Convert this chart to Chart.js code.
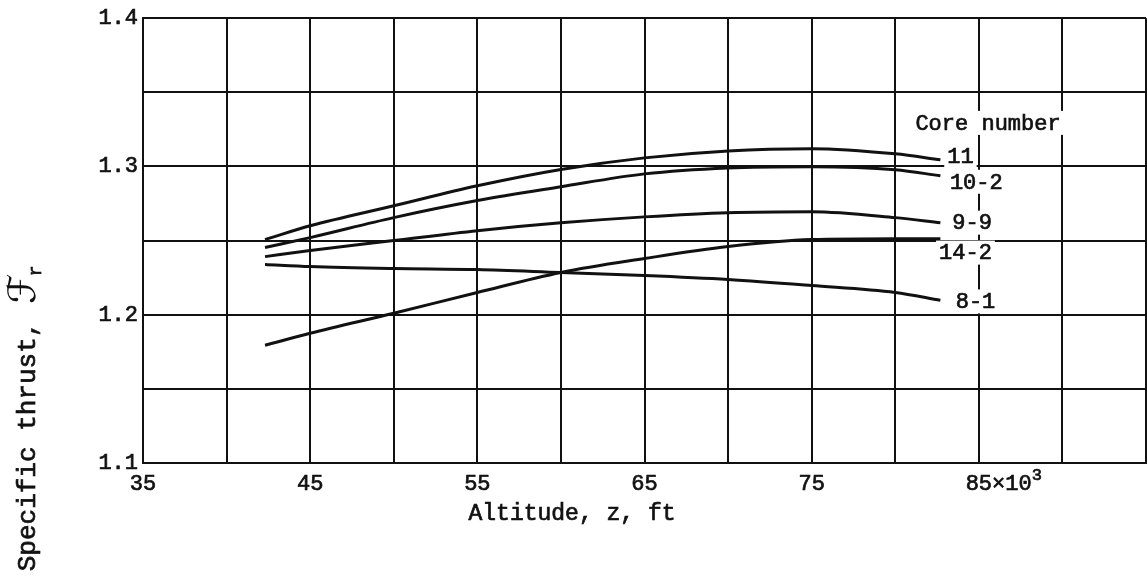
<!DOCTYPE html>
<html>
<head>
<meta charset="utf-8">
<script src="https://cdn.jsdelivr.net/npm/chart.js@4"></script>
<style>
  html, body { margin: 0; padding: 0; background: #fff; }
</style>
</head>
<body>
<canvas id="thrustChart" width="1147" height="586"></canvas>
<script>
// Specific thrust vs altitude, one curve per core
const altitude = [42.3, 45, 50, 55, 60, 65, 70, 75, 80, 82.7];
const core11 = [1.2507, 1.2600, 1.2735, 1.2870, 1.2980, 1.3058, 1.3105, 1.3120, 1.3085, 1.3045];
const core10_2 = [1.2453, 1.2520, 1.2655, 1.2770, 1.2863, 1.2950, 1.2990, 1.2998, 1.2978, 1.2937];
const core9_9 = [1.2392, 1.2433, 1.2500, 1.2567, 1.2620, 1.2660, 1.2688, 1.2695, 1.2655, 1.2620];
const core14_2 = [1.1794, 1.1875, 1.2010, 1.2150, 1.2285, 1.2379, 1.2460, 1.2507, 1.2513, 1.2513];
const core8_1 = [1.2339, 1.2325, 1.2312, 1.2305, 1.2285, 1.2265, 1.2238, 1.2197, 1.2150, 1.2097];
const coreNames = ['11', '10-2', '9-9', '14-2', '8-1'];
const xTickLabels = [35, 45, 55, 65, 75, 85];
const yTickLabels = [1.1, 1.2, 1.3, 1.4];

const ink = '#111';
const mono = '"Liberation Mono", "DejaVu Sans Mono", monospace';

function series(values) {
  return altitude.map((x, i) => ({ x: x, y: values[i] }));
}

const allSeries = [core11, core10_2, core9_9, core14_2, core8_1];

// curve labels, placed in data units next to the line ends
const curveLabels = [
  { text: 'Core number', x: 85.55, y: 1.3294 },
  { text: coreNames[0], x: 83.9, y: 1.3072 },
  { text: coreNames[1], x: 84.85, y: 1.2897 },
  { text: coreNames[2], x: 84.6, y: 1.2621 },
  { text: coreNames[3], x: 84.2, y: 1.2419 },
  { text: coreNames[4], x: 84.8, y: 1.2090 }
];

// typewriter look: fill plus a thin stroke
function inkText(ctx, s, x, y) {
  ctx.fillText(s, x, y);
  ctx.strokeText(s, x, y);
}

const annotations = {
  id: 'annotations',
  afterDraw(chart) {
    const ctx = chart.ctx;
    const xs = chart.scales.x;
    const ys = chart.scales.y;
    ctx.save();
    ctx.strokeStyle = ink;
    ctx.lineWidth = 0.7;

    // labels with white boxes that break the grid
    ctx.font = '22px ' + mono;
    ctx.textBaseline = 'middle';
    ctx.textAlign = 'center';
    curveLabels.forEach(l => {
      const px = xs.getPixelForValue(l.x);
      const py = ys.getPixelForValue(l.y);
      const w = ctx.measureText(l.text).width;
      ctx.fillStyle = '#fff';
      ctx.fillRect(px - w / 2 - 3, py - 12, w + 6, 24);
      ctx.fillStyle = ink;
      inkText(ctx, l.text, px, py + 1);
    });

    // x10^3 after the 85 tick
    const p85 = xs.getPixelForValue(85);
    const w85 = ctx.measureText('85').width;
    const ty = chart.chartArea.bottom + 21;
    ctx.textAlign = 'left';
    inkText(ctx, '\u00d710', p85 + w85 / 2, ty);
    const w10 = ctx.measureText('\u00d710').width;
    ctx.font = '17px ' + mono;
    inkText(ctx, '3', p85 + w85 / 2 + w10, ty - 9);

    // x axis title
    ctx.font = '23px ' + mono;
    ctx.textAlign = 'center';
    ctx.textBaseline = 'alphabetic';
    inkText(ctx, 'Altitude, z, ft', 572, 520);

    // y axis title, rotated, script F with subscript r
    ctx.translate(35, 306);
    ctx.rotate(-Math.PI / 2);
    ctx.font = '26px ' + mono;
    ctx.textAlign = 'right';
    inkText(ctx, 'Specific thrust, ', 0, 0);
    ctx.textAlign = 'left';
    ctx.font = 'italic 38px "DejaVu Serif", "DejaVu Sans", serif';
    ctx.fillText('\u2131', 2, 0);
    const wf = ctx.measureText('\u2131').width;
    ctx.font = '18px ' + mono;
    inkText(ctx, 'r', wf + 0, 6);
    ctx.restore();
  }
};

const tickFont = { family: mono, size: 22 };

new Chart(document.getElementById('thrustChart').getContext('2d'), {
  type: 'line',
  data: {
    datasets: allSeries.map((vals, i) => ({
      label: coreNames[i],
      data: series(vals),
      borderColor: ink,
      borderWidth: 3,
      pointRadius: 0,
      fill: false,
      cubicInterpolationMode: 'monotone'
    }))
  },
  options: {
    responsive: false,
    animation: false,
    devicePixelRatio: 1,
    layout: { padding: { left: 0, right: 1, top: 17, bottom: 0 } },
    scales: {
      x: {
        type: 'linear',
        min: 35,
        max: 95,
        afterFit: s => { s.height = 123; s.paddingLeft = 0; s.paddingRight = 0; },
        grid: { color: ink, lineWidth: 2, drawTicks: false },
        border: { color: ink, width: 2 },
        ticks: {
          stepSize: 5,
          autoSkip: false,
          maxRotation: 0,
          padding: 8,
          color: ink,
          textStrokeColor: ink,
          textStrokeWidth: 0.7,
          font: tickFont,
          callback: v => xTickLabels.includes(v) ? String(v) : ''
        }
      },
      y: {
        min: 1.1,
        max: 1.4,
        afterFit: s => { s.width = 143; },
        grid: { color: ink, lineWidth: 2, drawTicks: false },
        border: { color: ink, width: 2 },
        ticks: {
          stepSize: 0.05,
          autoSkip: false,
          padding: 5,
          color: ink,
          textStrokeColor: ink,
          textStrokeWidth: 0.7,
          font: tickFont,
          callback: v => yTickLabels.some(t => Math.abs(t - v) < 1e-6) ? v.toFixed(1) : ''
        }
      }
    },
    plugins: {
      legend: { display: false },
      tooltip: { enabled: false }
    }
  },
  plugins: [annotations]
});
</script>
</body>
</html>
